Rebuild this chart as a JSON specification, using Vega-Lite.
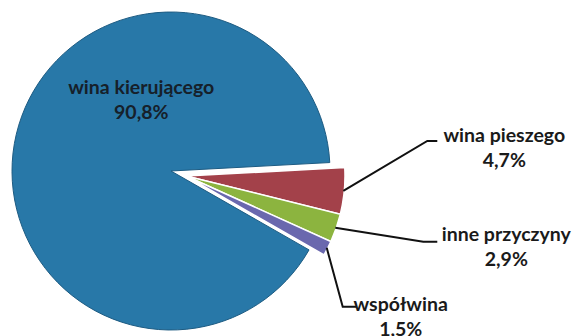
{
  "$schema": "https://vega.github.io/schema/vega-lite/v6.json",
  "autosize": "none",
  "width": 342,
  "height": 330,
  "padding": {"left": 0, "top": 6, "right": 235, "bottom": 0},
  "background": "white",
  "config": {
    "view": {"stroke": null},
    "text": {"font": "Lato", "fontWeight": "bold", "fontSize": 19.5}
  },
  "data": {
    "values": [
      {"cause": "wina kierującego", "value": 90.8},
      {"cause": "wina pieszego", "value": 4.7},
      {"cause": "inne przyczyny", "value": 2.9},
      {"cause": "współwina", "value": 1.5}
    ]
  },
  "transform": [
    {"stack": "value", "groupby": [], "sort": [{"field": "value", "order": "descending"}], "as": ["v0", "v1"]},
    {"calculate": "2.09 + 2 * PI * ((datum.v0 + datum.v1) / 2) / 99.9", "as": "mid"},
    {"calculate": "(datum.cause == 'wina kierującego' ? 0 : 15) + 158 * sin(datum.mid)", "as": "ex"},
    {"calculate": "(datum.cause == 'wina kierującego' ? 0 : -5) + 158 * cos(datum.mid)", "as": "ey"},
    {"calculate": "replace(format(datum.value, '.1f'), '.', ',') + '%'", "as": "pct"},
    {"calculate": "datum.cause + '\\n' + datum.pct", "as": "label"}
  ],
  "layer": [
    {
      "transform": [{"filter": "datum.cause == 'wina kierującego'"}],
      "mark": {"type": "arc", "outerRadius": 159, "stroke": "#1d5b82", "strokeWidth": 1},
      "encoding": {
        "theta": {"field": "v0", "type": "quantitative", "scale": {"domain": [0, 99.9], "range": [2.09, 8.37319]}},
        "theta2": {"field": "v1"},
        "color": {
          "field": "cause", "type": "nominal", "legend": null,
          "scale": {
            "domain": ["wina kierującego", "wina pieszego", "inne przyczyny", "współwina"],
            "range": ["#2878a8", "#a3414a", "#8cb43f", "#6a68ae"]
          }
        }
      }
    },
    {
      "transform": [{"filter": "datum.cause != 'wina kierującego'"}],
      "mark": {"type": "arc", "outerRadius": 159, "xOffset": 15, "yOffset": 5, "stroke": "white", "strokeWidth": 1.5},
      "encoding": {
        "theta": {"field": "v0", "type": "quantitative", "scale": {"domain": [0, 99.9], "range": [2.09, 8.37319]}},
        "theta2": {"field": "v1"},
        "color": {"field": "cause", "type": "nominal", "legend": null}
      }
    },
    {
      "transform": [{"filter": "datum.cause != 'wina kierującego'"}],
      "mark": {"type": "point", "filled": false, "stroke": "#111111", "strokeWidth": 2, "size": 4, "opacity": 1},
      "encoding": {
        "x": {"field": "ex", "type": "quantitative", "axis": null, "scale": {"domain": [-171, 171], "nice": false, "zero": false}},
        "y": {"field": "ey", "type": "quantitative", "axis": null, "scale": {"domain": [-165, 165], "nice": false, "zero": false}},
        "shape": {
          "field": "cause", "type": "nominal", "legend": null,
          "scale": {
            "domain": ["wina pieszego", "inne przyczyny", "współwina"],
            "range": ["M0,0L84,-50L94,-50", "M0,0L88,14L102,14", "M0,0L16,59L30,59"]
          }
        }
      }
    },
    {
      "transform": [{"filter": "datum.cause == 'wina kierującego'"}],
      "mark": {"type": "text", "align": "center", "baseline": "alphabetic", "lineBreak": "\n", "lineHeight": 25, "dx": 124, "dy": -41, "color": "#16202a"},
      "encoding": {
        "x": {"field": "ex", "type": "quantitative"},
        "y": {"field": "ey", "type": "quantitative"},
        "text": {"field": "label"}
      }
    },
    {
      "transform": [{"filter": "datum.cause == 'wina pieszego'"}],
      "mark": {"type": "text", "align": "center", "baseline": "alphabetic", "lineBreak": "\n", "lineHeight": 25, "dx": 161, "dy": -49, "color": "#1a1a1a"},
      "encoding": {
        "x": {"field": "ex", "type": "quantitative"},
        "y": {"field": "ey", "type": "quantitative"},
        "text": {"field": "label"}
      }
    },
    {
      "transform": [{"filter": "datum.cause == 'inne przyczyny'"}],
      "mark": {"type": "text", "align": "center", "baseline": "alphabetic", "lineBreak": "\n", "lineHeight": 25, "dx": 171, "dy": 13, "color": "#1a1a1a"},
      "encoding": {
        "x": {"field": "ex", "type": "quantitative"},
        "y": {"field": "ey", "type": "quantitative"},
        "text": {"field": "label"}
      }
    },
    {
      "transform": [{"filter": "datum.cause == 'współwina'"}],
      "mark": {"type": "text", "align": "center", "baseline": "alphabetic", "lineBreak": "\n", "lineHeight": 25, "dx": 74, "dy": 63, "color": "#1a1a1a"},
      "encoding": {
        "x": {"field": "ex", "type": "quantitative"},
        "y": {"field": "ey", "type": "quantitative"},
        "text": {"field": "label"}
      }
    }
  ]
}
